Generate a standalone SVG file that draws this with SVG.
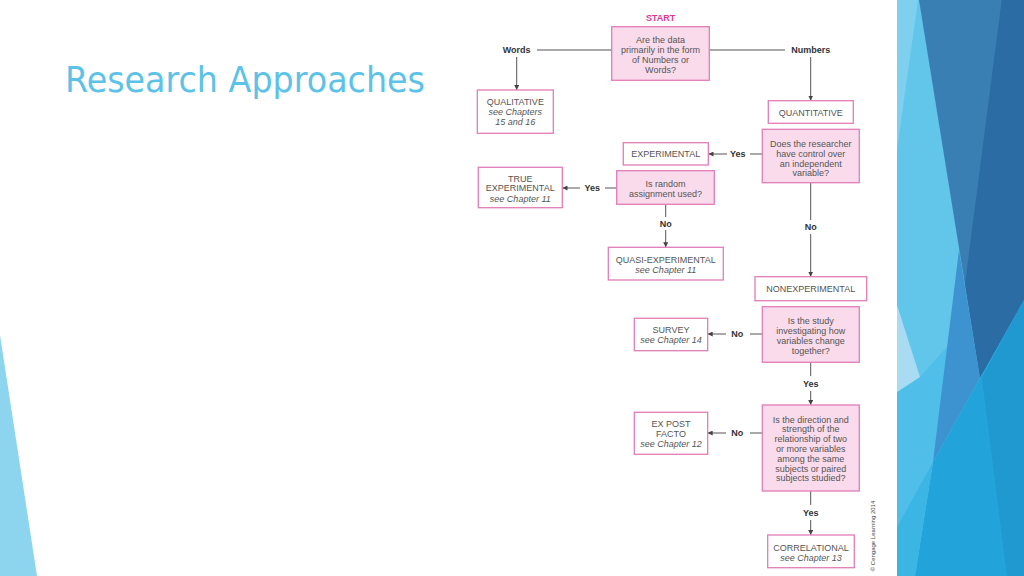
<svg xmlns="http://www.w3.org/2000/svg" width="1024" height="576" viewBox="0 0 1024 576">
<defs>
<style>
.box{fill:#ffffff;stroke:#e27cb8;stroke-width:1.3}
.dec{fill:#f9dbeb;stroke:#e27cb8;stroke-width:1.3}
.t{font-family:"Liberation Sans",Arial,sans-serif;font-size:9px;fill:#555;text-anchor:middle}
.i{font-style:italic}
.lb{font-family:"Liberation Sans",Arial,sans-serif;font-size:9px;font-weight:bold;fill:#333;text-anchor:middle}
.ln{stroke:#555;stroke-width:1;fill:none}
.ar{stroke:#555;stroke-width:1;fill:none;marker-end:url(#ah)}
</style>
<marker id="ah" viewBox="0 0 6 6" refX="6" refY="3" markerWidth="5" markerHeight="5" orient="auto" markerUnits="userSpaceOnUse">
<path d="M0,0 L6,3 L0,6 z" fill="#444"/>
</marker>
</defs>
<rect x="0" y="0" width="1024" height="576" fill="#ffffff"/>
<g id="decor">
<polygon points="0,335 37,576 0,576" fill="#8dd4ef"/>
<rect x="897" y="0" width="127" height="576" fill="#62c5ea"/>
<polygon points="897,0 918,0 897,150" fill="#7fd0ef"/>
<polygon points="919,0 1024,0 1024,300 980,378" fill="#3a7fb4"/>
<polygon points="1001.7,0 1024,0 1024,300 980,378 965,284" fill="#2a6ca3"/>
<polygon points="920,377 955,338 933,462 897,527 897,392" fill="#4fbee8"/>
<polygon points="897,305 920,377 897,392" fill="#a9dcf2"/>
<polygon points="959,250 980,378 933,462" fill="#3d93cf"/>
<polygon points="980,378 1024,300 1024,576 915,576 933,462" fill="#22a3da"/>
<polygon points="933,462 915,576 897,576 897,527" fill="#3ab5e4"/>
<polygon points="982,378 1024,300 1024,576 1007,576" fill="#1f99d0"/>
</g>
<text x="65" y="92" font-family="'DejaVu Sans',Verdana,sans-serif" font-size="35" fill="#5dc2e8" textLength="360" lengthAdjust="spacingAndGlyphs">Research Approaches</text>
<text x="660.7" y="21" font-family="'Liberation Sans',Arial,sans-serif" font-size="9" font-weight="bold" fill="#e2379a" text-anchor="middle">START</text>
<g id="connectors">
<line class="ln" x1="612" y1="50" x2="537" y2="50"/>
<line class="ar" x1="516.7" y1="57" x2="516.7" y2="90"/>
<line class="ln" x1="709" y1="50" x2="785" y2="50"/>
<line class="ar" x1="810.7" y1="57" x2="810.7" y2="100.5"/>
<line class="ln" x1="762" y1="154" x2="750" y2="154"/>
<line class="ar" x1="727" y1="154" x2="708.5" y2="154"/>
<line class="ln" x1="616.7" y1="188" x2="605" y2="188"/>
<line class="ar" x1="580" y1="188" x2="562.5" y2="188"/>
<line class="ln" x1="665.7" y1="204.3" x2="665.7" y2="217"/>
<line class="ar" x1="665.7" y1="230" x2="665.7" y2="247.3"/>
<line class="ln" x1="810.7" y1="183" x2="810.7" y2="220"/>
<line class="ar" x1="810.7" y1="234" x2="810.7" y2="276.7"/>
<line class="ln" x1="762.3" y1="334" x2="750" y2="334"/>
<line class="ar" x1="726" y1="334" x2="707.7" y2="334"/>
<line class="ln" x1="810.7" y1="362.3" x2="810.7" y2="376"/>
<line class="ar" x1="810.7" y1="391" x2="810.7" y2="405"/>
<line class="ln" x1="762.3" y1="433" x2="750" y2="433"/>
<line class="ar" x1="726" y1="433" x2="707.7" y2="433"/>
<line class="ln" x1="810.7" y1="491" x2="810.7" y2="505"/>
<line class="ar" x1="810.7" y1="520" x2="810.7" y2="535"/>
<text class="lb" x="516.7" y="53.3">Words</text>
<text class="lb" x="810.7" y="53.3">Numbers</text>
<text class="lb" x="737.7" y="157.3">Yes</text>
<text class="lb" x="592.3" y="191.3">Yes</text>
<text class="lb" x="665.7" y="226.6">No</text>
<text class="lb" x="810.7" y="230">No</text>
<text class="lb" x="737.3" y="337.3">No</text>
<text class="lb" x="810.7" y="386.6">Yes</text>
<text class="lb" x="737.3" y="436.3">No</text>
<text class="lb" x="810.7" y="515.6">Yes</text>
</g>
<g id="start">
<rect class="dec" x="611.7" y="26.7" width="97.6" height="53.6"/>
<text class="t" x="660.5" y="43.3">Are the data</text>
<text class="t" x="660.5" y="53.3">primarily in the form</text>
<text class="t" x="660.5" y="63.3">of Numbers or</text>
<text class="t" x="660.5" y="73">Words?</text>
</g>
<g id="qualitative">
<rect class="box" x="477.3" y="90" width="76" height="43.3"/>
<text class="t" x="515.3" y="105">QUALITATIVE</text>
<text class="t i" x="515.3" y="115.3">see Chapters</text>
<text class="t i" x="515.3" y="125.3">15 and 16</text>
</g>
<g id="quantitative">
<rect class="box" x="768.3" y="100.7" width="85" height="22.6"/>
<text class="t" x="810.8" y="115.5">QUANTITATIVE</text>
</g>
<g id="control">
<rect class="dec" x="762.3" y="129.3" width="97" height="53.4"/>
<text class="t" x="810.8" y="147">Does the researcher</text>
<text class="t" x="810.8" y="157">have control over</text>
<text class="t" x="810.8" y="166.5">an independent</text>
<text class="t" x="810.8" y="176">variable?</text>
</g>
<g id="experimental">
<rect class="box" x="623.3" y="142.7" width="85" height="22.3"/>
<text class="t" x="665.8" y="157.2">EXPERIMENTAL</text>
</g>
<g id="random">
<rect class="dec" x="616.7" y="170.7" width="97.6" height="33.6"/>
<text class="t" x="665.5" y="186.5">Is random</text>
<text class="t" x="665.5" y="197.3">assignment used?</text>
</g>
<g id="true-experimental">
<rect class="box" x="478.3" y="167.3" width="84" height="40.4"/>
<text class="t" x="520.3" y="181.5">TRUE</text>
<text class="t" x="520.3" y="191">EXPERIMENTAL</text>
<text class="t i" x="520.3" y="201.5">see Chapter 11</text>
</g>
<g id="quasi">
<rect class="box" x="608.3" y="247.3" width="115" height="32.7"/>
<text class="t" x="665.8" y="263">QUASI-EXPERIMENTAL</text>
<text class="t i" x="665.8" y="273">see Chapter 11</text>
</g>
<g id="nonexperimental">
<rect class="box" x="755" y="276.7" width="111.7" height="24"/>
<text class="t" x="810.8" y="292.3">NONEXPERIMENTAL</text>
</g>
<g id="change">
<rect class="dec" x="762.3" y="306.7" width="97" height="55.6"/>
<text class="t" x="810.8" y="324">Is the study</text>
<text class="t" x="810.8" y="334">investigating how</text>
<text class="t" x="810.8" y="343.5">variables change</text>
<text class="t" x="810.8" y="353.5">together?</text>
</g>
<g id="survey">
<rect class="box" x="634.3" y="318.3" width="73.4" height="32.4"/>
<text class="t" x="671" y="333.3">SURVEY</text>
<text class="t i" x="671" y="343.3">see Chapter 14</text>
</g>
<g id="direction">
<rect class="dec" x="762.3" y="405" width="97" height="86"/>
<text class="t" x="810.8" y="422.6">Is the direction and</text>
<text class="t" x="810.8" y="432.4">strength of the</text>
<text class="t" x="810.8" y="442.2">relationship of two</text>
<text class="t" x="810.8" y="452">or more variables</text>
<text class="t" x="810.8" y="461.8">among the same</text>
<text class="t" x="810.8" y="471.6">subjects or paired</text>
<text class="t" x="810.8" y="481.4">subjects studied?</text>
</g>
<g id="expostfacto">
<rect class="box" x="634.3" y="412.3" width="73.4" height="42"/>
<text class="t" x="671" y="426.5">EX POST</text>
<text class="t" x="671" y="436.5">FACTO</text>
<text class="t i" x="671" y="446.5">see Chapter 12</text>
</g>
<g id="correlational">
<rect class="box" x="767.7" y="535" width="86.6" height="32.7"/>
<text class="t" x="811" y="550.5">CORRELATIONAL</text>
<text class="t i" x="811" y="560.5">see Chapter 13</text>
</g>
<text transform="translate(875,536) rotate(-90)" font-family="'Liberation Sans',Arial,sans-serif" font-size="6" fill="#444" text-anchor="middle">© Cengage Learning 2014</text>
</svg>
